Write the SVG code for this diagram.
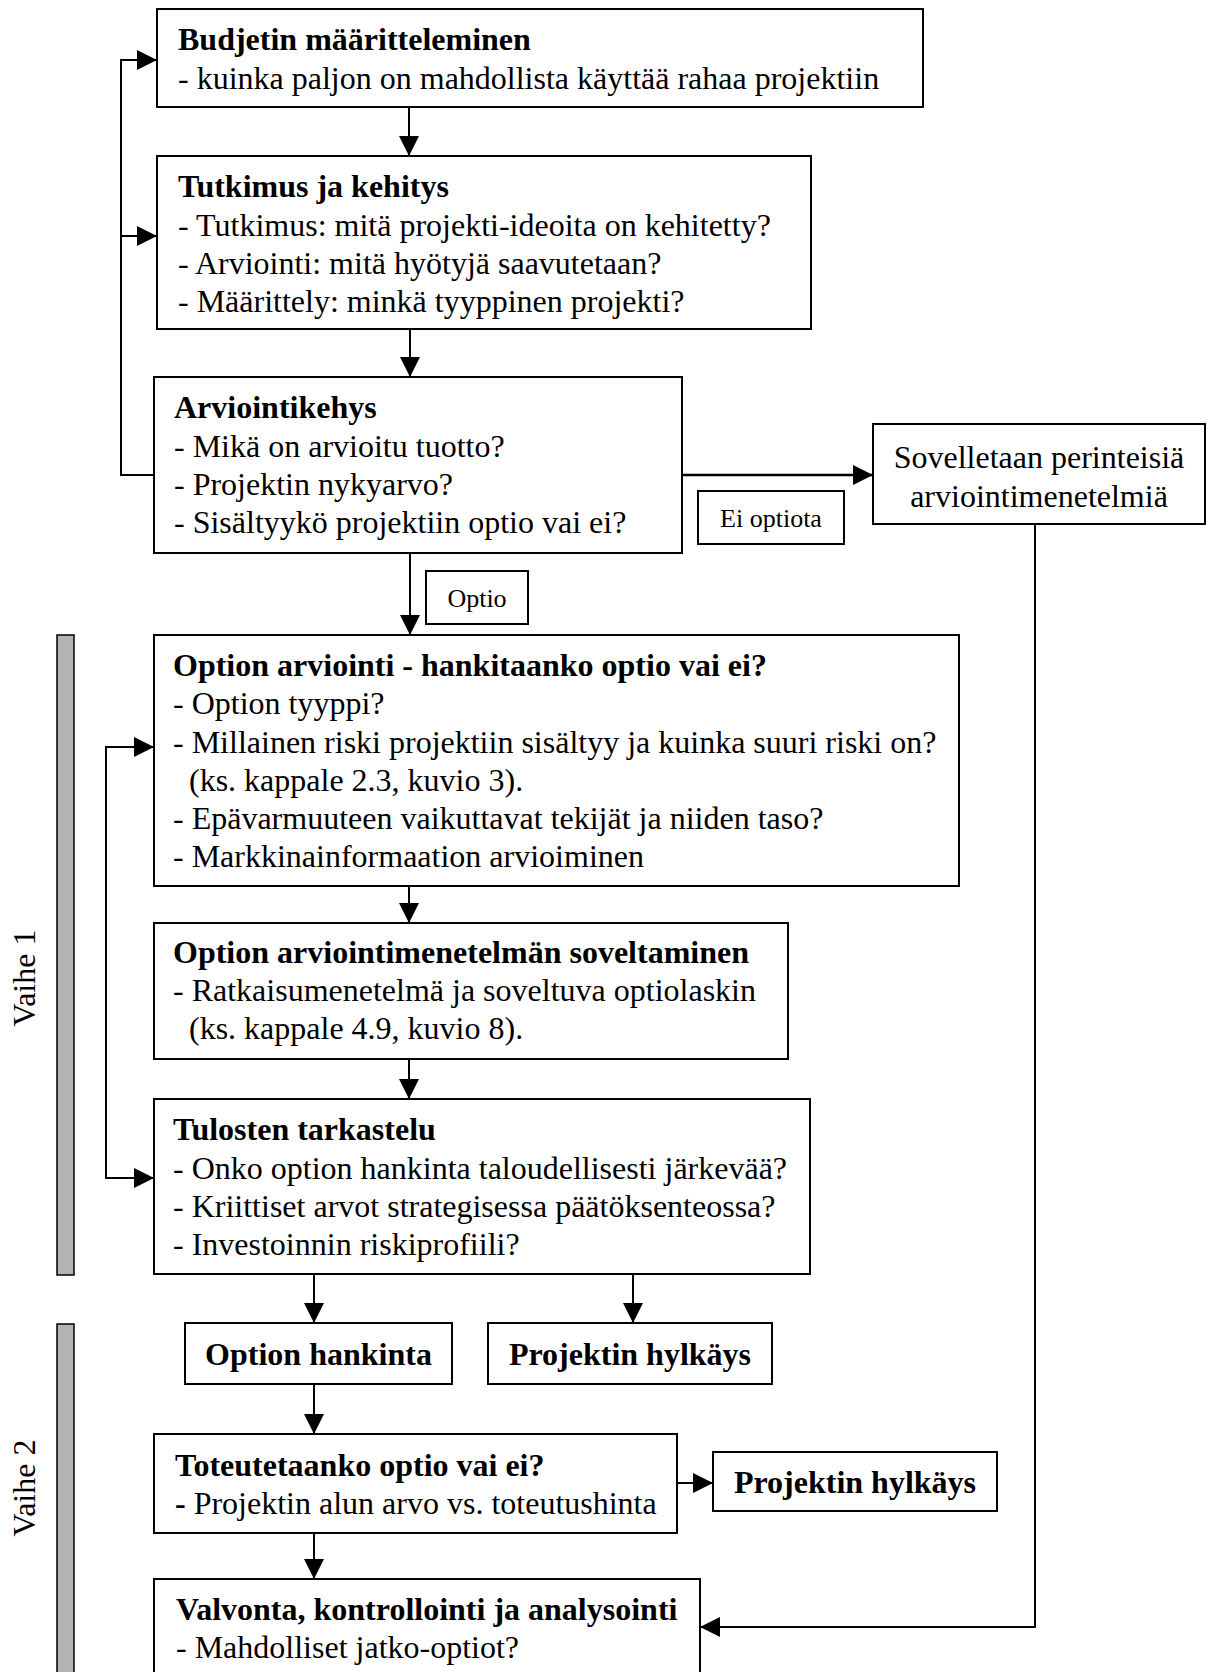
<svg xmlns="http://www.w3.org/2000/svg" width="1210" height="1672" viewBox="0 0 1210 1672">
  <style>
    text { font-family: "Liberation Serif", "Times New Roman", serif; font-size: 32px; fill: #000; }
    .b { font-weight: bold; }
    .sm { font-size: 26px; }
    .mid { text-anchor: middle; }
    .box { fill: #fff; stroke: #000; stroke-width: 2; }
    .bar { fill: #b3b3b3; stroke: #000; stroke-width: 1.5; }
    .line { fill: none; stroke: #000; stroke-width: 2; }
  </style>
  <defs>
    <marker id="arrow" markerUnits="userSpaceOnUse" markerWidth="20" markerHeight="20" refX="20" refY="10" orient="auto">
      <path d="M0,0 L20,10 L0,20 z" fill="#000"/>
    </marker>
    <marker id="arrowStart" markerUnits="userSpaceOnUse" markerWidth="20" markerHeight="20" refX="0" refY="10" orient="auto">
      <path d="M20,0 L0,10 L20,20 z" fill="#000"/>
    </marker>
  </defs>

  <rect width="1210" height="1672" fill="#fff"/>

  <!-- phase bars -->
  <g id="phase1">
    <rect class="bar" x="57" y="635" width="17" height="640"/>
    <text transform="translate(35,978) rotate(-90)" class="mid">Vaihe 1</text>
  </g>
  <g id="phase2">
    <rect class="bar" x="57" y="1324" width="17" height="360"/>
    <text transform="translate(35,1488) rotate(-90)" class="mid">Vaihe 2</text>
  </g>

  <!-- connectors -->
  <g id="connectors">
    <line class="line" x1="409" y1="107" x2="409" y2="156" marker-end="url(#arrow)"/>
    <line class="line" x1="410" y1="329" x2="410" y2="377" marker-end="url(#arrow)"/>
    <line class="line" x1="410" y1="553" x2="410" y2="635" marker-end="url(#arrow)"/>
    <line class="line" x1="409" y1="886" x2="409" y2="923" marker-end="url(#arrow)"/>
    <line class="line" x1="409" y1="1059" x2="409" y2="1099" marker-end="url(#arrow)"/>
    <line class="line" x1="314" y1="1274" x2="314" y2="1323" marker-end="url(#arrow)"/>
    <line class="line" x1="633" y1="1274" x2="633" y2="1323" marker-end="url(#arrow)"/>
    <line class="line" x1="314" y1="1384" x2="314" y2="1434" marker-end="url(#arrow)"/>
    <line class="line" x1="314" y1="1533" x2="314" y2="1579" marker-end="url(#arrow)"/>
    <line class="line" x1="677" y1="1483" x2="713" y2="1483" marker-end="url(#arrow)"/>
    <line class="line" x1="682" y1="475" x2="873" y2="475" marker-end="url(#arrow)" style="stroke-width:2.5"/>
    <!-- feedback from Arviointikehys back to the top -->
    <path class="line" d="M154,475 H121 V60 H157" marker-end="url(#arrow)"/>
    <line class="line" x1="121" y1="236" x2="157" y2="236" marker-end="url(#arrow)"/>
    <!-- loop inside phase 1 -->
    <path class="line" d="M154,747 H106 V1178 H154" marker-start="url(#arrowStart)" marker-end="url(#arrow)"/>
    <!-- traditional methods lead to monitoring -->
    <path class="line" d="M1035,524 V1627 H700" marker-end="url(#arrow)"/>
  </g>

  <g id="budjetti">
    <rect class="box" x="157" y="9" width="766" height="98"/>
    <text x="178" y="50" class="b">Budjetin määritteleminen</text>
    <text x="178" y="89">- kuinka paljon on mahdollista käyttää rahaa projektiin</text>
  </g>

  <g id="tutkimus">
    <rect class="box" x="157" y="156" width="654" height="173"/>
    <text x="178" y="197" class="b">Tutkimus ja kehitys</text>
    <text x="178" y="236">- Tutkimus: mitä projekti-ideoita on kehitetty?</text>
    <text x="178" y="274">- Arviointi: mitä hyötyjä saavutetaan?</text>
    <text x="178" y="312">- Määrittely: minkä tyyppinen projekti?</text>
  </g>

  <g id="arviointikehys">
    <rect class="box" x="154" y="377" width="528" height="176"/>
    <text x="174" y="418" class="b">Arviointikehys</text>
    <text x="174" y="457">- Mikä on arvioitu tuotto?</text>
    <text x="174" y="495">- Projektin nykyarvo?</text>
    <text x="174" y="533">- Sisältyykö projektiin optio vai ei?</text>
  </g>

  <g id="perinteiset">
    <rect class="box" x="873" y="424" width="332" height="100"/>
    <text x="1039" y="468" class="mid">Sovelletaan perinteisiä</text>
    <text x="1039" y="507" class="mid">arviointimenetelmiä</text>
  </g>

  <g id="ei-optiota">
    <rect class="box" x="698" y="491" width="146" height="53"/>
    <text x="771" y="527" class="sm mid">Ei optiota</text>
  </g>

  <g id="optio">
    <rect class="box" x="426" y="571" width="102" height="53"/>
    <text x="477" y="607" class="sm mid">Optio</text>
  </g>

  <g id="option-arviointi">
    <rect class="box" x="154" y="635" width="805" height="251"/>
    <text x="173" y="676" class="b">Option arviointi - hankitaanko optio vai ei?</text>
    <text x="173" y="714">- Option tyyppi?</text>
    <text x="173" y="753">- Millainen riski projektiin sisältyy ja kuinka suuri riski on?</text>
    <text x="189" y="791">(ks. kappale 2.3, kuvio 3).</text>
    <text x="173" y="829">- Epävarmuuteen vaikuttavat tekijät ja niiden taso?</text>
    <text x="173" y="867">- Markkinainformaation arvioiminen</text>
  </g>

  <g id="menetelma">
    <rect class="box" x="154" y="923" width="634" height="136"/>
    <text x="173" y="963" class="b">Option arviointimenetelmän soveltaminen</text>
    <text x="173" y="1001">- Ratkaisumenetelmä ja soveltuva optiolaskin</text>
    <text x="189" y="1039">(ks. kappale 4.9, kuvio 8).</text>
  </g>

  <g id="tulokset">
    <rect class="box" x="154" y="1099" width="656" height="175"/>
    <text x="173" y="1140" class="b">Tulosten tarkastelu</text>
    <text x="173" y="1179">- Onko option hankinta taloudellisesti järkevää?</text>
    <text x="173" y="1217">- Kriittiset arvot strategisessa päätöksenteossa?</text>
    <text x="173" y="1255">- Investoinnin riskiprofiili?</text>
  </g>

  <g id="hankinta">
    <rect class="box" x="185" y="1323" width="267" height="61"/>
    <text x="318.5" y="1365" class="b mid">Option hankinta</text>
  </g>

  <g id="hylkays1">
    <rect class="box" x="488" y="1323" width="284" height="61"/>
    <text x="630" y="1365" class="b mid">Projektin hylkäys</text>
  </g>

  <g id="toteutus">
    <rect class="box" x="154" y="1434" width="523" height="99"/>
    <text x="175" y="1476" class="b">Toteutetaanko optio vai ei?</text>
    <text x="175" y="1514"><tspan class="b">-</tspan> Projektin alun arvo vs. toteutushinta</text>
  </g>

  <g id="hylkays2">
    <rect class="box" x="713" y="1452" width="284" height="59"/>
    <text x="855" y="1493" class="b mid">Projektin hylkäys</text>
  </g>

  <g id="valvonta">
    <rect class="box" x="154" y="1579" width="546" height="120"/>
    <text x="176" y="1620" class="b">Valvonta, kontrollointi ja analysointi</text>
    <text x="176" y="1658">- Mahdolliset jatko-optiot?</text>
  </g>
</svg>
